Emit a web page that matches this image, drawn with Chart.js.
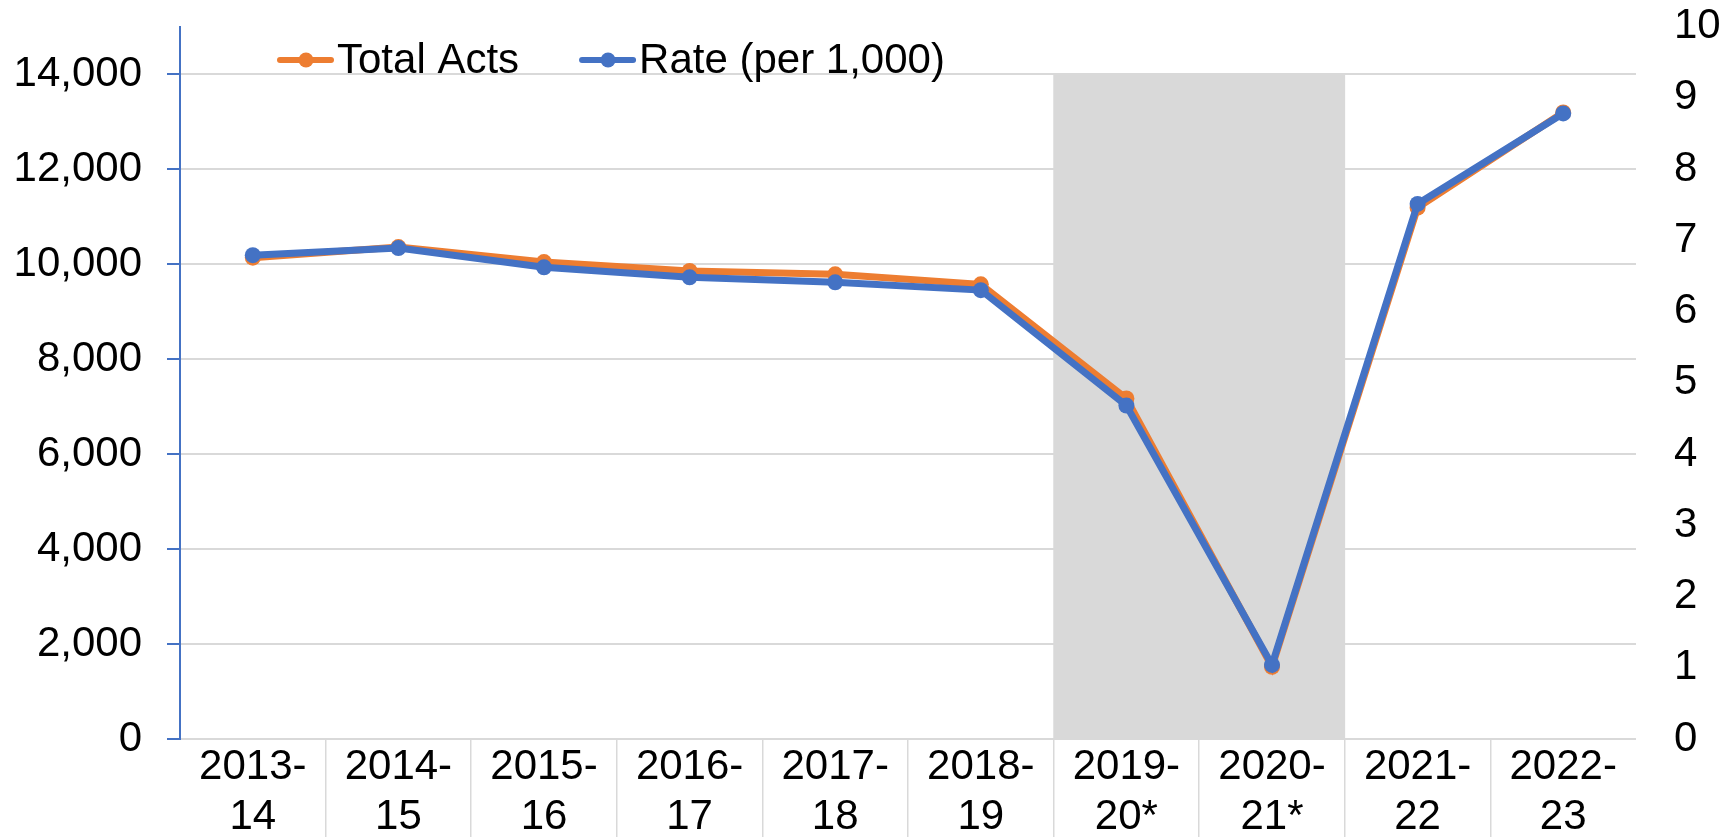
<!DOCTYPE html>
<html><head><meta charset="utf-8">
<script src="https://cdn.jsdelivr.net/npm/chart.js@4.4.0/dist/chart.umd.min.js"></script>
<style>html,body{margin:0;padding:0;background:#fff;overflow:hidden}canvas{display:block}</style>
</head><body>
<canvas id="c" width="1729" height="837"></canvas>
<script>
const categories = ['2013-14','2014-15','2015-16','2016-17','2017-18','2018-19','2019-20*','2020-21*','2021-22','2022-23'];
const tickLabels = [['2013-','14'],['2014-','15'],['2015-','16'],['2016-','17'],['2017-','18'],['2018-','19'],['2019-','20*'],['2020-','21*'],['2021-','22'],['2022-','23']];
const totalActs = [10134, 10357, 10041, 9852, 9783, 9572, 7168, 1521, 11186, 13190];
const ratePer1000 = [6.79, 6.89, 6.62, 6.48, 6.41, 6.30, 4.68, 1.04, 7.51, 8.78];
const shadedCategories = ['2019-20*','2020-21*'];
const shadeTop = 14000;
const leftTickValues = [0, 2000, 4000, 6000, 8000, 10000, 12000, 14000];
const rightTickValues = [0, 1, 2, 3, 4, 5, 6, 7, 8, 9, 10];
const leftMax = 15000;
const rightMax = 10;

const FONT = "'Liberation Sans', Arial, sans-serif";
const ORANGE = '#ED7D31', BLUE = '#4472C4', GRID = '#D9D9D9';

const isEdgeDivider = ctx => (ctx.type !== 'tick' || ctx.index === 0 || ctx.index >= categories.length);

const legendPlugin = {
  id: 'excelLegend',
  afterDraw(chart) {
    const ctx = chart.ctx;
    const area = chart.chartArea;
    let x = area.left + 97;
    const yMark = 60, yText = 72.5;
    ctx.save();
    ctx.font = '42px ' + FONT;
    ctx.textBaseline = 'alphabetic';
    ctx.textAlign = 'left';
    chart.data.datasets.filter(d => d.type === 'line').forEach(d => {
      ctx.strokeStyle = d.borderColor;
      ctx.lineWidth = 6;
      ctx.lineCap = 'round';
      ctx.beginPath();
      ctx.moveTo(x + 3, yMark);
      ctx.lineTo(x + 54, yMark);
      ctx.stroke();
      ctx.fillStyle = d.borderColor;
      ctx.beginPath();
      ctx.arc(x + 29, yMark, 7.5, 0, Math.PI * 2);
      ctx.fill();
      ctx.fillStyle = '#000';
      ctx.fillText(d.label, x + 60, yText);
      x += 60 + ctx.measureText(d.label).width + 60;
    });
    ctx.restore();
  }
};

new Chart(document.getElementById('c'), {
  data: {
    labels: tickLabels,
    datasets: [
      {
        type: 'line', label: 'Total Acts', data: totalActs, yAxisID: 'y',
        borderColor: ORANGE, backgroundColor: ORANGE, borderWidth: 7,
        pointRadius: 8, pointBorderWidth: 0, pointBackgroundColor: ORANGE,
        tension: 0, order: 2
      },
      {
        type: 'line', label: 'Rate (per 1,000)', data: ratePer1000, yAxisID: 'y1',
        borderColor: BLUE, backgroundColor: BLUE, borderWidth: 7,
        pointRadius: 8, pointBorderWidth: 0, pointBackgroundColor: BLUE,
        tension: 0, order: 1
      },
      {
        type: 'bar', label: '', yAxisID: 'y',
        data: categories.map(c => shadedCategories.includes(c) ? shadeTop : null),
        backgroundColor: GRID, borderWidth: 0,
        barPercentage: 1, categoryPercentage: 1, order: 3
      }
    ]
  },
  options: {
    responsive: false,
    animation: false,
    devicePixelRatio: 1,
    layout: { padding: { top: 26.5, left: 0, right: 0, bottom: 0 } },
    plugins: { legend: { display: false }, tooltip: { enabled: false } },
    scales: {
      x: {
        type: 'category',
        offset: true,
        grid: {
          offset: true, drawOnChartArea: false, drawTicks: true, tickLength: 100,
          lineWidth: ctx => isEdgeDivider(ctx) ? 0 : 1.5,
          tickWidth: ctx => isEdgeDivider(ctx) ? 0 : 1.5,
          color: ctx => isEdgeDivider(ctx) ? 'rgba(0,0,0,0)' : GRID,
          tickColor: ctx => isEdgeDivider(ctx) ? 'rgba(0,0,0,0)' : GRID
        },
        border: { color: GRID, width: 2 },
        ticks: {
          color: '#000', padding: -97, maxRotation: 0, autoSkip: false,
          font: { family: FONT, size: 42, lineHeight: 1.19 }
        },
        afterFit(scale) { scale.height = 98; scale.paddingLeft = 0; scale.paddingRight = 0; }
      },
      y: {
        position: 'left', min: 0, max: leftMax,
        afterBuildTicks(axis) { axis.ticks = leftTickValues.map(v => ({ value: v })); },
        grid: { color: GRID, lineWidth: 2, tickColor: BLUE, tickLength: 13, drawTicks: true },
        border: { color: BLUE, width: 2 },
        ticks: {
          color: '#000', padding: 25,
          font: { family: FONT, size: 42 },
          callback: v => v.toLocaleString('en-US')
        },
        afterFit(scale) { scale.width = 180; scale.paddingTop = 0; scale.paddingBottom = 0; }
      },
      y1: {
        position: 'right', min: 0, max: rightMax,
        afterBuildTicks(axis) { axis.ticks = rightTickValues.map(v => ({ value: v })); },
        grid: { display: false, drawTicks: false, drawOnChartArea: false },
        border: { display: false },
        ticks: {
          color: '#000', padding: 38,
          font: { family: FONT, size: 42 }
        },
        afterFit(scale) { scale.width = 93; scale.paddingTop = 0; scale.paddingBottom = 0; }
      }
    }
  },
  plugins: [legendPlugin]
});
</script>
</body></html>
